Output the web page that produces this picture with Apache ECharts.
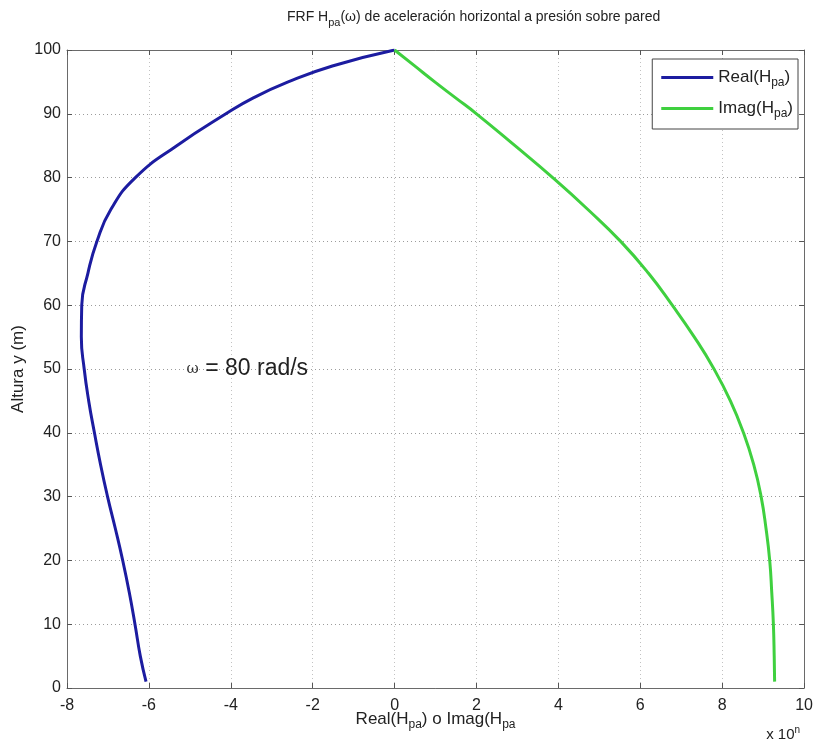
<!DOCTYPE html>
<html>
<head>
<meta charset="utf-8">
<script src="https://cdn.jsdelivr.net/npm/echarts@6/dist/echarts.min.js"></script>
<style>
  html, body { margin: 0; padding: 0; background: #fff; }
  #chart { width: 816px; height: 749px; }
</style>
</head>
<body>
<div id="chart"></div>
<script>
// Heights along the wall (m)
const heights = [1, 5, 10, 15, 20, 25, 30, 35, 40, 45, 50, 55, 60, 65, 70, 75, 80, 85, 90, 92.5, 95, 97.5, 100];
// Real part of H_pa at each height (x 10^n)
const realVals = [-6.07, -6.21, -6.34, -6.48, -6.64, -6.82, -7.01, -7.18, -7.33, -7.47, -7.58, -7.65, -7.64, -7.49, -7.27, -6.93, -6.33, -5.32, -4.12, -3.45, -2.60, -1.52, 0];
// Imaginary part of H_pa at each height (x 10^n)
const imagVals = [9.28, 9.27, 9.25, 9.21, 9.16, 9.07, 8.95, 8.77, 8.52, 8.20, 7.80, 7.32, 6.78, 6.20, 5.52, 4.72, 3.86, 2.94, 2.00, 1.49, 0.98, 0.49, 0];

const xTicks = { min: -8, max: 10, interval: 2 };
const yTicks = { min: 0, max: 100, interval: 10 };

const seriesNames = ['Real(Hpa)', 'Imag(Hpa)'];
const seriesColors = ['#1c1ca0', '#3fd03f'];

const font = 'Liberation Sans, Arial, sans-serif';
const sub = size => ({ fontSize: size, fontFamily: font, verticalAlign: 'bottom', padding: [Math.round(size * 0.9), 0, 0, 0], color: '#222' });

const toPairs = vals => vals.map((v, i) => [v, heights[i]]);

const chart = echarts.init(document.getElementById('chart'), null, { renderer: 'canvas' });

const tick = { show: true, inside: true, length: 5, lineStyle: { color: '#555' } };
const axisLine = { show: true, onZero: false, lineStyle: { color: '#6a6a6a', width: 1 } };
const tickLabel = { fontFamily: font, fontSize: 16, color: '#222' };

chart.setOption({
  backgroundColor: '#fff',
  animation: false,
  title: {
    text: 'FRF H{s|pa}(ω) de aceleración horizontal a presión sobre pared',
    left: 282,
    top: 2,
    textStyle: {
      fontFamily: font, fontSize: 14, fontWeight: 'normal', color: '#222',
      rich: { s: sub(11) }
    }
  },
  grid: { left: 67, right: 11, top: 50, bottom: 61, containLabel: false },
  legend: {
    orient: 'vertical',
    right: 18,
    top: 59,
    data: seriesNames,
    icon: 'rect',
    itemWidth: 52,
    itemHeight: 3,
    itemGap: 11,
    padding: [10, 5, 9, 9],
    borderColor: '#444',
    borderWidth: 1,
    backgroundColor: '#fff',
    formatter: n => n.replace('Hpa', 'H{s|pa}'),
    textStyle: {
      fontFamily: font, fontSize: 17, color: '#222',
      rich: { s: sub(12) }
    }
  },
  xAxis: [{
    type: 'value',
    min: xTicks.min, max: xTicks.max, interval: xTicks.interval,
    name: 'Real(H{s|pa}) o Imag(H{s|pa}',
    nameLocation: 'middle',
    nameGap: 20,
    nameMoveOverlap: false,
    nameTextStyle: { fontFamily: font, fontSize: 17, color: '#222', rich: { s: sub(12) } },
    axisLine: axisLine,
    axisTick: tick,
    axisLabel: Object.assign({ margin: 10 }, tickLabel),
    splitLine: { show: true, lineStyle: { color: '#c2c2c2', type: [1, 3], width: 1 } }
  }, {
    type: 'value', position: 'top',
    min: xTicks.min, max: xTicks.max, interval: xTicks.interval,
    axisLine: axisLine, axisTick: tick, axisLabel: { show: false }, splitLine: { show: false }
  }],
  yAxis: [{
    type: 'value',
    min: yTicks.min, max: yTicks.max, interval: yTicks.interval,
    name: 'Altura y (m)',
    nameLocation: 'middle',
    nameGap: 40,
    nameMoveOverlap: false,
    nameTextStyle: { fontFamily: font, fontSize: 17, color: '#222' },
    axisLine: axisLine,
    axisTick: tick,
    axisLabel: Object.assign({ margin: 6 }, tickLabel),
    splitLine: { show: true, lineStyle: { color: '#9c9c9c', type: [1, 3], width: 1 } }
  }, {
    type: 'value', position: 'right',
    min: yTicks.min, max: yTicks.max, interval: yTicks.interval,
    axisLine: axisLine, axisTick: tick, axisLabel: { show: false }, splitLine: { show: false }
  }],
  series: [
    {
      name: seriesNames[0], type: 'line', data: toPairs(realVals),
      smooth: 0.5, showSymbol: false, symbol: 'none',
      lineStyle: { color: seriesColors[0], width: 3 }, itemStyle: { color: seriesColors[0] }
    },
    {
      name: seriesNames[1], type: 'line', data: toPairs(imagVals),
      smooth: 0.5, showSymbol: false, symbol: 'none',
      lineStyle: { color: seriesColors[1], width: 3 }, itemStyle: { color: seriesColors[1] }
    }
  ]
});

// Frequency annotation anchored in data space, plus the axis exponent
const annot = chart.convertToPixel({ xAxisIndex: 0, yAxisIndex: 0 }, [-5.08, 50]);
const corner = chart.convertToPixel({ xAxisIndex: 0, yAxisIndex: 0 }, [10, 0]);
chart.setOption({
  graphic: [
    {
      type: 'text', x: annot[0], y: annot[1],
      style: {
        text: '{w|ω} = 80 rad/s',
        fontFamily: font, fontSize: 23, fill: '#222',
        verticalAlign: 'middle', align: 'left',
        rich: { w: { fontFamily: 'DejaVu Serif, serif', fontSize: 15, fill: '#333' } }
      }
    },
    {
      type: 'text', x: corner[0] - 4, y: corner[1] + 47,
      style: {
        text: 'x 10{p|n}',
        fontFamily: font, fontSize: 15, fill: '#222',
        align: 'right', verticalAlign: 'middle',
        rich: { p: { fontFamily: font, fontSize: 10, fill: '#222', verticalAlign: 'top', padding: [0, 0, 9, 0] } }
      }
    }
  ]
});
</script>
</body>
</html>
